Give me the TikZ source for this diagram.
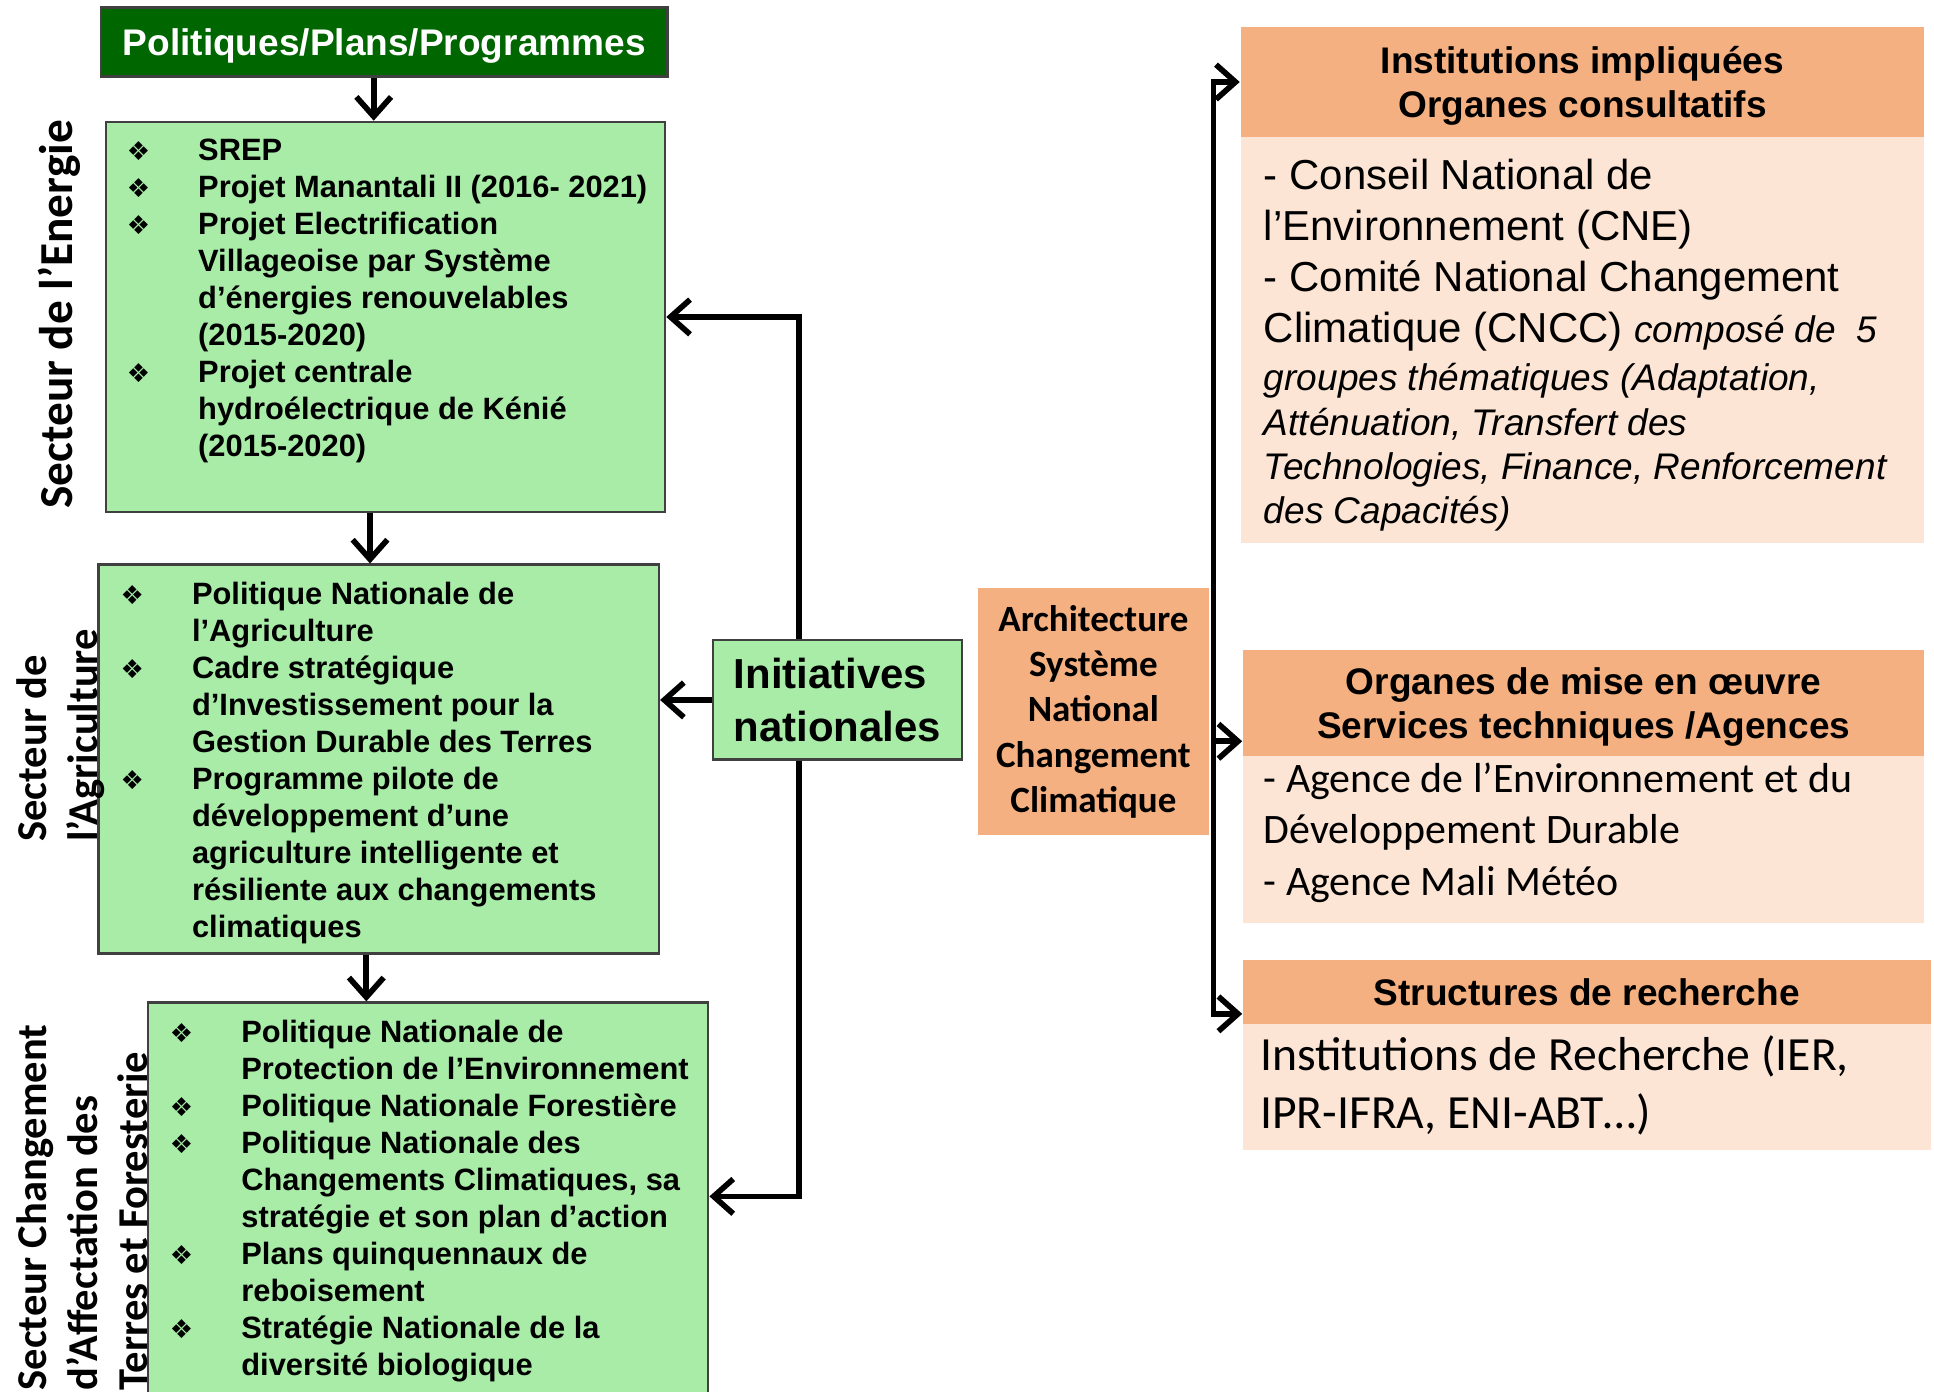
\documentclass[tikz,border=0pt]{standalone}
\usepackage{fontspec}
\setmainfont{Liberation Sans}
\newfontfamily\carlito{Carlito}
\newfontfamily\dejavu{DejaVu Sans}
\usetikzlibrary{arrows.meta}
\definecolor{vertfonce}{RGB}{0,102,0}
\definecolor{vertclair}{RGB}{168,236,168}
\definecolor{orangefonce}{RGB}{244,176,128}
\definecolor{orangeclair}{RGB}{252,229,212}
\newcommand{\puce}{\llap{{\dejavu\fontsize{6}{6}\selectfont ❖}\hspace{0.39cm}}}
\begin{document}
\begin{tikzpicture}[x=0.01cm, y=-0.01cm,
	boite/.style={draw=black!75, line width=0.6pt, fill=vertclair, inner sep=0pt},
	entete/.style={fill=orangefonce, inner sep=0pt, align=center, text depth=0pt, font=\bfseries\fontsize{8.54}{10.24}\selectfont},
	corps/.style={fill=orangeclair, inner sep=0pt},
	liste/.style={anchor=north west, inner sep=0pt, align=left, font=\bfseries\fontsize{7.11}{8.54}\selectfont},
	secteur/.style={anchor=north west, inner sep=0pt, align=left, rotate=90, font=\carlito\bfseries\fontsize{9.8}{11.66}\selectfont},
	fleche/.style={line width=1.3pt, -{Straight Barb[length=4.5pt,width=8pt]}}]
	\useasboundingbox (0,0) rectangle (1568,1128.5);
	\clip (0,0) rectangle (1568,1128.5);
	\node (ppp) [draw=black!75, line width=0.6pt, fill=vertfonce, text=white, inner sep=0pt, text depth=0pt, minimum width=4.59cm, minimum height=0.56cm, font=\bfseries\fontsize{8.54}{10.24}\selectfont] at (311.5,34) {Politiques/Plans/Programmes};
	\node (energie) [boite, minimum width=4.53cm, minimum height=3.16cm] at (312.5,257) {};
	\node (agri) [boite, minimum width=4.54cm, minimum height=3.15cm] at (307,615.5) {};
	\node (foret) [boite, minimum width=4.54cm, minimum height=3.22cm] at (347,974) {};
	\node (init) [boite, minimum width=2.02cm, minimum height=0.97cm, align=left, font=\bfseries\fontsize{9.67}{12.23}\selectfont] at (679,567.5) {Initiatives\\nationales};
	\node (arch) [fill=orangefonce, inner sep=0pt, minimum width=1.87cm, minimum height=2cm, align=center, font=\carlito\bfseries\fontsize{8.54}{10.44}\selectfont] at (886.5,577) {Architecture\\Système\\National\\Changement\\Climatique};

	\node (energie-txt) [liste] at (160,112) {\puce SREP\\\puce Projet Manantali II (2016- 2021)\\\puce Projet Electrification\\Villageoise par Système\\d’énergies renouvelables\\(2015-2020)\\\puce Projet centrale\\hydroélectrique de Kénié\\(2015-2020)};
	\node (agri-txt) [liste] at (155,471) {\puce Politique Nationale de\\l’Agriculture\\\puce Cadre stratégique\\d’Investissement pour la\\Gestion Durable des Terres\\\puce Programme pilote de\\développement d’une\\agriculture intelligente et\\résiliente aux changements\\climatiques};
	\node (foret-txt) [liste] at (195,826) {\puce Politique Nationale de\\Protection de l’Environnement\\\puce Politique Nationale Forestière\\\puce Politique Nationale des\\Changements Climatiques, sa\\stratégie et son plan d’action\\\puce Plans quinquennaux de\\reboisement\\\puce Stratégie Nationale de la\\diversité biologique};

	\node (energie-lbl) [secteur, font=\carlito\bfseries\fontsize{10.9}{12}\selectfont] at (30,413) {Secteur de l’Energie};
	\node (agri-lbl) [secteur] at (13,683) {Secteur de\\l’Agriculture};
	\node (foret-lbl) [secteur] at (13,1128) {Secteur Changement\\d’Affectation des\\Terres et Foresterie};

	\node (insti) [entete, minimum width=5.54cm, minimum height=0.89cm] at (1283,66.5) {Institutions impliquées\\Organes consultatifs};
	\node (insti-c) [corps, minimum width=5.54cm, minimum height=3.29cm] at (1283,275.5) {};
	\node (organes) [entete, minimum width=5.52cm, minimum height=0.86cm] at (1284,570) {Organes de mise en œuvre\\Services techniques /Agences};
	\node (organes-c) [corps, minimum width=5.52cm, minimum height=1.35cm] at (1284,680.5) {};
	\node (struct) [entete, minimum width=5.57cm, minimum height=0.52cm] at (1286.5,804) {Structures de recherche};
	\node (struct-c) [corps, minimum width=5.57cm, minimum height=1.02cm] at (1286.5,881) {};

	\node (insti-txt) [anchor=north west, inner sep=0pt, align=left, font=\fontsize{9.67}{11.75}\selectfont] at (1024,128) {- Conseil National de\\l’Environnement (CNE)\\- Comité National Changement\\Climatique (CNCC) {\itshape\fontsize{8.54}{10.24}\selectfont composé de\ \ 5}};
	\node (insti-ital) [anchor=north west, inner sep=0pt, align=left, font=\itshape\fontsize{8.54}{10.24}\selectfont] at (1024,294) {groupes thématiques (Adaptation,\\Atténuation, Transfert des\\Technologies, Finance, Renforcement\\des Capacités)};
	\node (organes-txt) [anchor=north west, inner sep=0pt, align=left, font=\carlito\fontsize{9.67}{11.81}\selectfont] at (1024,618) {- Agence de l’Environnement et du\\Développement Durable\\- Agence Mali Météo};
	\node (struct-txt) [anchor=north west, inner sep=0pt, align=left, font=\carlito\fontsize{10.98}{13.37}\selectfont] at (1021,839) {Institutions de Recherche (IER,\\IPR-IFRA, ENI-ABT…)};

	\draw [fleche] ([xshift=-0.085cm]ppp.south) -- ([xshift=-0.085cm]ppp.south |- energie.north);
	\draw [fleche] ([xshift=-0.125cm]energie.south) -- ([xshift=-0.125cm]energie.south |- agri.north);
	\draw [fleche] ([xshift=-0.10cm]agri.south) -- ([xshift=-0.10cm]agri.south |- foret.north);
	\draw [fleche] ([xshift=-0.31cm]init.north) |- (energie.east);
	\draw [fleche] (init.west) -- (init.west -| agri.east);
	\draw [fleche] ([xshift=-0.31cm]init.south) |- ([yshift=0.04cm]foret.east);

	\coordinate (dos) at ([xshift=0.03cm]arch.east);
	\draw [fleche] (dos) |- (insti.west);
	\draw [fleche] (dos) |- ([yshift=-0.31cm]organes.west);
	\draw [fleche] (dos) |- ([yshift=-0.18cm]struct.west);
\end{tikzpicture}
\end{document}
